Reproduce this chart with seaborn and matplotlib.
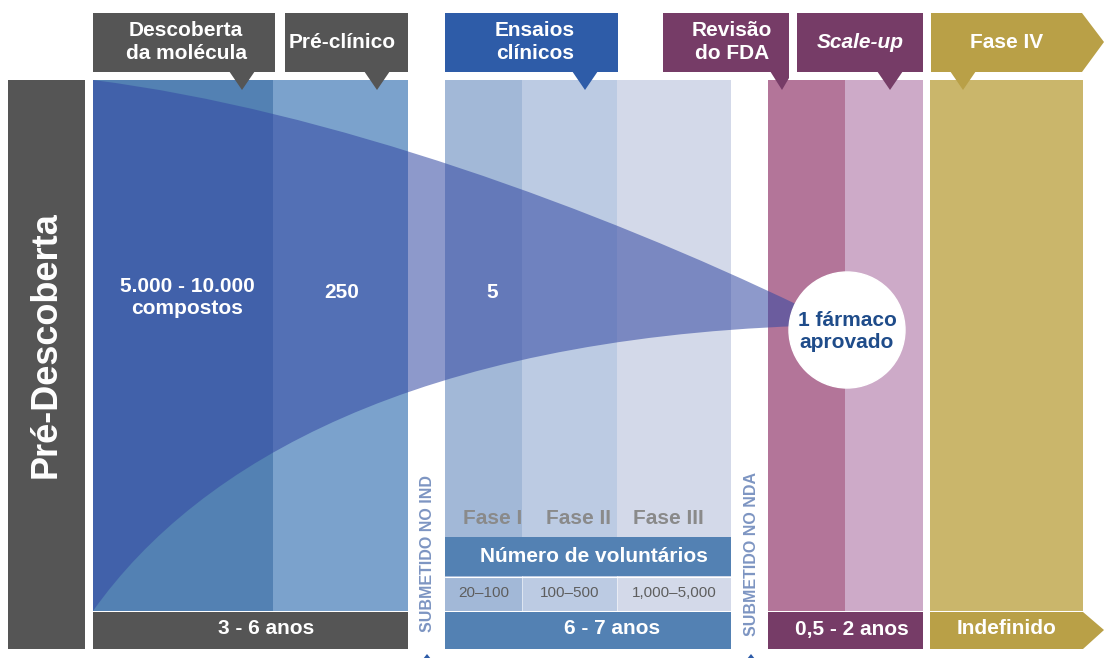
import matplotlib
matplotlib.use("Agg")
import matplotlib.pyplot as plt
import seaborn as sns
from matplotlib.patches import Polygon, Circle, PathPatch
from matplotlib.path import Path

# ---- content -------------------------------------------------------------
stages = ["Descoberta\nda molécula", "Pré-clínico", "Ensaios\nclínicos",
          "Revisão\ndo FDA", "Scale-up", "Fase IV"]
side_label = "Pré-Descoberta"
compounds = ["5.000 - 10.000\ncompostos", "250", "5", "1 fármaco\naprovado"]
durations = ["3 - 6 anos", "6 - 7 anos", "0,5 - 2 anos", "Indefinido"]
trial_phases = ["Fase I", "Fase II", "Fase III"]
volunteers_title = "Número de voluntários"
volunteers = ["20–100", "100–500", "1,000–5,000"]
milestones = ["SUBMETIDO NO IND", "SUBMETIDO NO NDA"]

# ---- palette -------------------------------------------------------------
GRAY = "#555555"
BLUE_HDR = "#2e5ca8"
PURPLE = "#763c67"
GOLD = "#b9a047"
BLUE_COLS = ["#5381b3", "#7ba2cc"]
TRIAL_COLS = ["#a2b8d7", "#bccbe3", "#d3d9e9"]
PINK_COLS = ["#b37599", "#cdaac8"]
GOLD_COL = "#cab66b"
BAND = "#5381b3"
FUNNEL = "#3449a3"
DARK_TXT = "#1f4c8a"

sns.set_theme(style="white")
plt.rcParams["font.family"] = ["Liberation Sans", "DejaVu Sans"]

fig = plt.figure(figsize=(11.04, 6.58), dpi=100)
ax = fig.add_axes([0, 0, 1, 1])
ax.set_xlim(0, 1104)
ax.set_ylim(658, 0)
ax.axis("off")

W = dict(color="white", fontweight="bold", ha="center", va="center")

# ---- layout (pixel grid) -------------------------------------------------
HDR_TOP, HDR_BOT = 13, 72
COL_TOP, COL_BOT = 80, 611
FOOT_BOT = 649

def block(x0, x1, y0, y1, color, z=1):
    ax.bar(x0, y1 - y0, width=x1 - x0, bottom=y0, align="edge",
           color=color, linewidth=0, zorder=z)

def pointer(tip_x, color, left=13, right=13):
    ax.add_patch(Polygon([(tip_x - left, HDR_BOT - 1), (tip_x + right, HDR_BOT - 1),
                          (tip_x, 90)], closed=True, color=color, lw=0, zorder=5))

# side column
block(8, 85, COL_TOP, FOOT_BOT, GRAY)
ax.text(46, 345, side_label, rotation=90, fontsize=26, **W)

# discovery + preclinical columns
blue_edges = [93, 273, 408]
for i, c in enumerate(BLUE_COLS):
    block(blue_edges[i], blue_edges[i + 1], COL_TOP, COL_BOT, c)
block(93, 408, COL_BOT + 1, FOOT_BOT, GRAY)

# clinical trial columns
trial_edges = [445, 522, 617, 731]
phase_x = [493, 578, 668]
vol_x = [484, 570, 674]
for i, c in enumerate(TRIAL_COLS):
    block(trial_edges[i], trial_edges[i + 1], COL_TOP, COL_BOT, c)
    ax.text(phase_x[i], 518, trial_phases[i], color="#8a8a8a", fontsize=15,
            fontweight="bold", ha="center", va="center", zorder=6)
    ax.text(vol_x[i], 593, volunteers[i], color="#5e5e5e", fontsize=11,
            ha="center", va="center", zorder=6)
block(445, 731, 537, 576, BAND, z=4)
ax.text(594, 556, volunteers_title, fontsize=15, zorder=6, **W)
for x in trial_edges[1:-1]:
    ax.plot([x, x], [576, COL_BOT], color="white", lw=0.6, alpha=0.6, zorder=5)
ax.plot([445, 731], [576.5, 576.5], color="white", lw=0.8, zorder=5)
block(445, 731, COL_BOT + 1, FOOT_BOT, BAND)

# review + scale-up columns
pink_edges = [768, 845, 923]
for i, c in enumerate(PINK_COLS):
    block(pink_edges[i], pink_edges[i + 1], COL_TOP, COL_BOT, c)
block(768, 923, COL_BOT + 1, FOOT_BOT, PURPLE)

# phase IV column with arrow foot
block(930, 1083, COL_TOP, COL_BOT, GOLD_COL)
ax.add_patch(Polygon([(930, COL_BOT + 1), (1083, COL_BOT + 1), (1104, 630),
                      (1083, FOOT_BOT), (930, FOOT_BOT)], closed=True, color=GOLD, lw=0, zorder=1))

# header tabs
headers = [(93, 275, GRAY, 242), (285, 408, GRAY, 377), (445, 618, BLUE_HDR, 585),
           (663, 789, PURPLE, None), (797, 923, PURPLE, 890)]
for x0, x1, c, tip in headers:
    block(x0, x1, HDR_TOP, HDR_BOT, c, z=5)
    if tip is not None:
        pointer(tip, c)
ax.add_patch(Polygon([(770, HDR_BOT - 1), (789, HDR_BOT - 1), (789, 78), (782, 90)],
                     closed=True, color=PURPLE, lw=0, zorder=5))
ax.add_patch(Polygon([(931, HDR_TOP), (1082, HDR_TOP), (1104, 42), (1082, HDR_BOT),
                      (931, HDR_BOT)], closed=True, color=GOLD, lw=0, zorder=5))
pointer(963, GOLD)

hdr_x = [186, 342, 535, 732, 860, 1007]
for x, s in zip(hdr_x, stages):
    style = "italic" if s == "Scale-up" else "normal"
    ax.text(x, 42, s, fontstyle=style, fontsize=15, linespacing=1.25, zorder=7, **W)

# funnel of candidate compounds
verts = [(93, 80), (330, 110), (600, 210), (800, 306), (800, 326),
         (420, 340), (200, 460), (93, 611), (93, 80)]
codes = [Path.MOVETO, Path.CURVE4, Path.CURVE4, Path.CURVE4, Path.LINETO,
         Path.CURVE4, Path.CURVE4, Path.CURVE4, Path.CLOSEPOLY]
ax.add_patch(PathPatch(Path(verts, codes), facecolor=FUNNEL, alpha=0.56, lw=0, zorder=3))

# milestone labels between stages
for x, s in zip([427, 751], milestones):
    ax.text(x, 554, s, rotation=90, color="#7d95c2", fontsize=11.5, fontweight="bold",
            ha="center", va="center", zorder=6)
    ax.add_patch(Polygon([(x - 8, 664), (x, 654), (x + 8, 664)], closed=True,
                         color=BLUE_HDR, lw=0, zorder=6))

# compound counts
ax.text(187, 297, compounds[0], fontsize=15, linespacing=1.2, zorder=7, **W)
ax.text(342, 293, compounds[1], fontsize=15, zorder=7, **W)
ax.text(492, 293, compounds[2], fontsize=15, zorder=7, **W)
ax.add_patch(Circle((847, 330), 58, color="white", zorder=8))
ax.text(847, 331, compounds[3], color=DARK_TXT, fontsize=15, fontweight="bold",
        ha="center", va="center", linespacing=1.2, zorder=9)

# durations
for x, s in zip([266, 612, 852, 1007], durations):
    ax.text(x, 629, s, fontsize=15, zorder=7, **W)

fig.savefig("out.png", dpi=100)
